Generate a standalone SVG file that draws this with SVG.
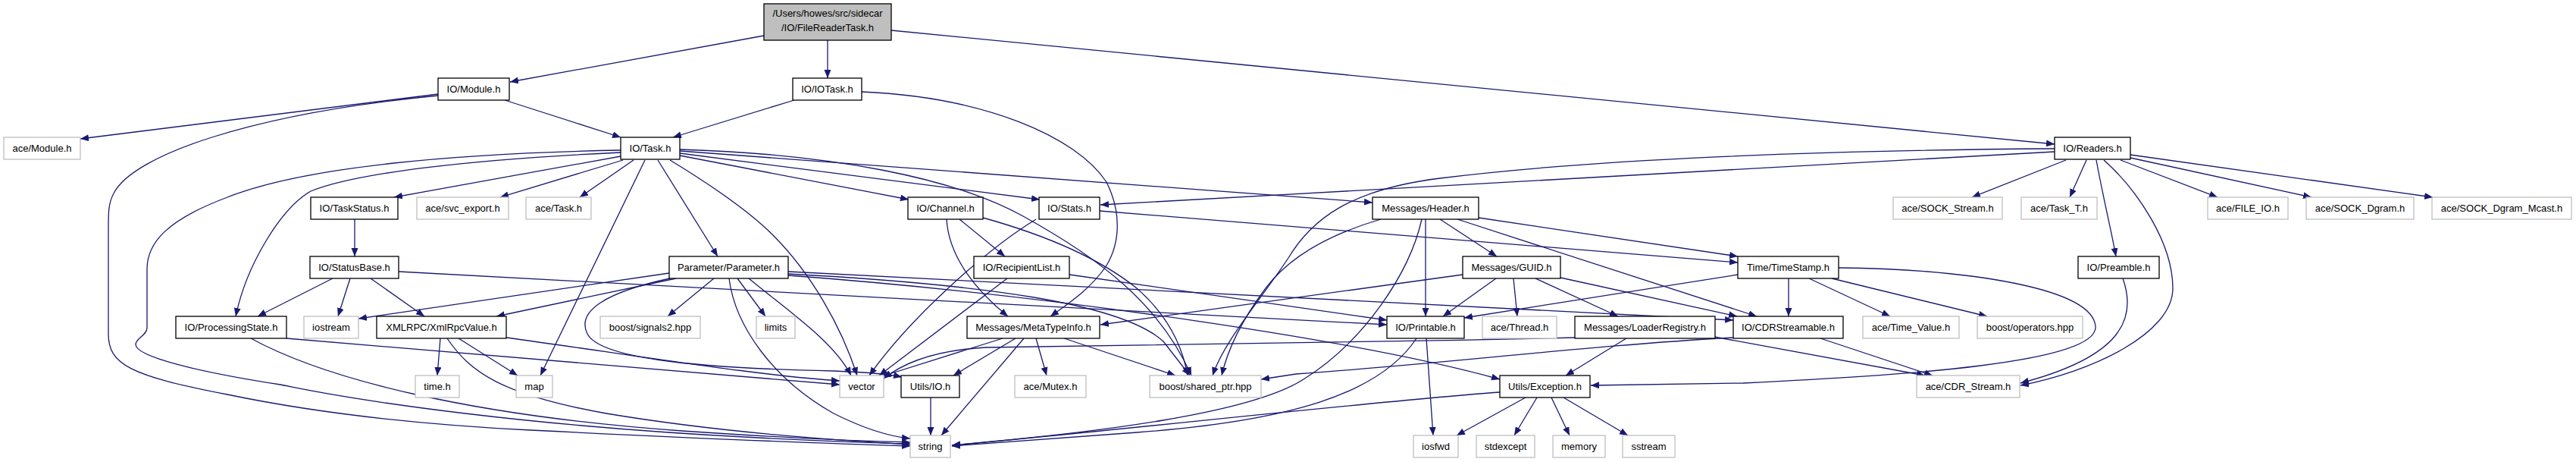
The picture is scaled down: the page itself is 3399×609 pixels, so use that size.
<svg xmlns="http://www.w3.org/2000/svg" width="3399" height="609" viewBox="0 0 3399 609">
<style>
.n rect{fill:#fff;stroke:#000;stroke-width:1.3}
.x rect{fill:#fff;stroke:#bfbfbf;stroke-width:1.3}
.r rect{fill:#bfbfbf;stroke:#000;stroke-width:1.3}
text{font-family:"Liberation Sans",Helvetica,Arial,sans-serif;font-size:13px;fill:#000;text-anchor:middle}
#edges path{fill:none;stroke:#191970;stroke-width:1.3;marker-end:url(#a)}
</style>
<defs>
<marker id="a" markerUnits="userSpaceOnUse" markerWidth="12" markerHeight="10" refX="11" refY="4.5" orient="auto"><path d="M0,0 L11,4.5 L0,9 z" fill="#191970"/></marker>
</defs>
<rect width="3399" height="609" fill="#fff"/>
<g id="edges">
<path d="M1008,47 L673,108"/>
<path d="M1092,53 L1092,103"/>
<path d="M1176,40 L2711,190"/>
<path d="M578,124 L106,183"/>
<path d="M578,126 C330,150 175,205 150,255 C143,268 143,280 143,300 L143,440 C143,480 170,495 300,520 C420,545 560,560 700,567 C900,577 1100,585 1201,588"/>
<path d="M666,132 L819,181"/>
<path d="M1048,132 L888,181"/>
<path d="M1137,121 C1300,128 1420,180 1460,240 C1480,280 1478,320 1460,350 C1440,380 1410,400 1386,417"/>
<path d="M2711,200 L1452,270"/>
<path d="M2711,196 C2400,198 2100,210 1900,235 C1780,250 1730,290 1700,340 C1660,400 1615,450 1600,495"/>
<path d="M2726,211 L2602,260"/>
<path d="M2753,211 L2731,260"/>
<path d="M2766,211 C2775,260 2785,300 2792,338"/>
<path d="M2776,211 C2820,250 2867,320 2867,380 C2867,440 2760,490 2666,508"/>
<path d="M2798,211 L2926,260"/>
<path d="M2811,208 L3050,260"/>
<path d="M2811,204 L3210,260"/>
<path d="M819,206 L520,260"/>
<path d="M822,211 L660,260"/>
<path d="M836,211 L765,260"/>
<path d="M819,201 C620,210 470,228 410,252 C370,275 325,350 311,417"/>
<path d="M819,198 C600,202 400,220 300,260 C220,290 194,320 194,355 L194,432 C194,442 179,446 179,454 C179,470 260,490 370,507 C480,530 700,562 1000,577 C1100,582 1160,584 1201,585"/>
<path d="M851,211 L713,495"/>
<path d="M868,211 L947,338"/>
<path d="M884,211 C940,245 990,280 1020,310 C1070,360 1110,430 1131,495"/>
<path d="M897,205 L1199,263"/>
<path d="M897,202 L1372,263"/>
<path d="M897,199 L1811,267"/>
<path d="M897,197 C1100,203 1260,235 1350,285 C1450,340 1530,400 1572,495"/>
<path d="M1249,289 C1252,340 1290,385 1330,417"/>
<path d="M1266,289 L1326,338"/>
<path d="M1297,287 C1380,310 1450,340 1500,380 C1540,415 1560,455 1567,495"/>
<path d="M1367,289 C1300,330 1200,420 1147,495"/>
<path d="M1451,278 L2293,346"/>
<path d="M1900,289 L1975,338"/>
<path d="M1881,289 L1881,417"/>
<path d="M1822,289 C1750,310 1700,340 1670,380 C1640,420 1620,460 1612,495"/>
<path d="M1876,289 C1860,360 1800,450 1720,500 C1650,545 1450,570 1256,587"/>
<path d="M1923,289 L2318,417"/>
<path d="M1951,287 L2293,338"/>
<path d="M1974,367 L1904,417"/>
<path d="M1997,367 L2002,417"/>
<path d="M2026,367 L2135,417"/>
<path d="M2059,366 L2292,417"/>
<path d="M1930,362 L1452,428"/>
<path d="M2360,367 L2360,417"/>
<path d="M2387,367 L2494,417"/>
<path d="M2417,367 L2622,417"/>
<path d="M2293,362 L1932,419"/>
<path d="M2426,353 C2600,355 2760,380 2765,430 C2770,480 2500,495 2300,505 L2099,508"/>
<path d="M2801,367 C2820,420 2800,470 2666,505"/>
<path d="M2146,446 L2066,495"/>
<path d="M2262,444 L2540,495"/>
<path d="M2078,445 C1800,452 1500,455 1300,458 C1230,462 1190,480 1166,499"/>
<path d="M2402,446 L2550,495"/>
<path d="M2287,445 C2100,455 1900,480 1710,493 L1664,500"/>
<path d="M1323,446 L1164,496"/>
<path d="M1340,446 L1258,495"/>
<path d="M1351,446 L1242,574"/>
<path d="M1367,446 L1381,495"/>
<path d="M1404,446 L1551,495"/>
<path d="M1228,524 L1228,574"/>
<path d="M1882,446 L1891,574"/>
<path d="M1869,446 C1820,520 1700,555 1500,570 C1400,578 1300,585 1256,588"/>
<path d="M2013,524 L1922,574"/>
<path d="M2028,524 L1998,574"/>
<path d="M2047,524 L2071,574"/>
<path d="M2063,524 L2148,574"/>
<path d="M1979,517 C1800,530 1500,565 1256,587"/>
<path d="M468,289 L468,338"/>
<path d="M439,367 L340,417"/>
<path d="M462,367 L446,417"/>
<path d="M489,367 L560,417"/>
<path d="M526,358 L1830,428"/>
<path d="M883,360 L473,420"/>
<path d="M892,367 L655,417"/>
<path d="M942,367 L881,417"/>
<path d="M973,367 L1010,417"/>
<path d="M988,367 C1040,410 1100,450 1123,495"/>
<path d="M884,367 C800,385 760,410 775,440 C790,470 900,485 1100,489 C1150,491 1172,493 1190,497"/>
<path d="M962,367 C970,430 1020,500 1100,545 C1150,570 1180,576 1201,578"/>
<path d="M1040,358 L2287,422"/>
<path d="M1040,363 C1400,390 1800,450 1979,500"/>
<path d="M1040,361 C1300,375 1480,400 1535,450 L1570,495"/>
<path d="M1329,367 L1160,495"/>
<path d="M1411,362 L1830,422"/>
<path d="M331,446 C430,500 620,548 900,568 C1050,578 1150,582 1201,583"/>
<path d="M378,446 L1108,507"/>
<path d="M581,446 L577,495"/>
<path d="M605,446 L683,495"/>
<path d="M590,446 C620,490 660,520 800,545 C950,570 1100,580 1201,586"/>
<path d="M668,445 C850,470 1000,495 1108,502"/>
</g>
<g id="n_root" class="r"><rect x="1008" y="5" width="168" height="48"/><text x="1092" y="22">/Users/howes/src/sidecar</text><text x="1092" y="41">/IO/FileReaderTask.h</text></g>
<g id="n_module" class="n"><rect x="578" y="103" width="94" height="29"/><text x="625" y="122">IO/Module.h</text></g>
<g id="n_iotask" class="n"><rect x="1046" y="103" width="91" height="29"/><text x="1091.5" y="122">IO/IOTask.h</text></g>
<g id="n_acemodule" class="x"><rect x="5" y="181" width="101" height="29"/><text x="55.5" y="200">ace/Module.h</text></g>
<g id="n_task" class="n"><rect x="819" y="181" width="78" height="29"/><text x="858" y="200">IO/Task.h</text></g>
<g id="n_readers" class="n"><rect x="2711" y="181" width="100" height="29"/><text x="2761" y="200">IO/Readers.h</text></g>
<g id="n_taskstatus" class="n"><rect x="410" y="260" width="115" height="29"/><text x="467.5" y="279">IO/TaskStatus.h</text></g>
<g id="n_svcexport" class="x"><rect x="550" y="260" width="121" height="29"/><text x="610.5" y="279">ace/svc_export.h</text></g>
<g id="n_acetask" class="x"><rect x="694" y="260" width="86" height="29"/><text x="737" y="279">ace/Task.h</text></g>
<g id="n_channel" class="n"><rect x="1198" y="260" width="99" height="29"/><text x="1247.5" y="279">IO/Channel.h</text></g>
<g id="n_stats" class="n"><rect x="1371" y="260" width="80" height="29"/><text x="1411" y="279">IO/Stats.h</text></g>
<g id="n_header" class="n"><rect x="1811" y="260" width="140" height="29"/><text x="1881" y="279">Messages/Header.h</text></g>
<g id="n_sockstream" class="x"><rect x="2498" y="260" width="144" height="29"/><text x="2570" y="279">ace/SOCK_Stream.h</text></g>
<g id="n_taskt" class="x"><rect x="2667" y="260" width="100" height="29"/><text x="2717" y="279">ace/Task_T.h</text></g>
<g id="n_fileio" class="x"><rect x="2913" y="260" width="106" height="29"/><text x="2966" y="279">ace/FILE_IO.h</text></g>
<g id="n_sockdgram" class="x"><rect x="3043" y="260" width="142" height="29"/><text x="3114" y="279">ace/SOCK_Dgram.h</text></g>
<g id="n_mcast" class="x"><rect x="3209" y="260" width="184" height="29"/><text x="3301" y="279">ace/SOCK_Dgram_Mcast.h</text></g>
<g id="n_statusbase" class="n"><rect x="409" y="338" width="117" height="29"/><text x="467.5" y="357">IO/StatusBase.h</text></g>
<g id="n_parameter" class="n"><rect x="883" y="338" width="157" height="29"/><text x="961.5" y="357">Parameter/Parameter.h</text></g>
<g id="n_recipient" class="n"><rect x="1285" y="338" width="126" height="29"/><text x="1348" y="357">IO/RecipientList.h</text></g>
<g id="n_guid" class="n"><rect x="1930" y="338" width="129" height="29"/><text x="1994.5" y="357">Messages/GUID.h</text></g>
<g id="n_timestamp" class="n"><rect x="2293" y="338" width="133" height="29"/><text x="2359.5" y="357">Time/TimeStamp.h</text></g>
<g id="n_preamble" class="n"><rect x="2742" y="338" width="107" height="29"/><text x="2795.5" y="357">IO/Preamble.h</text></g>
<g id="n_procstate" class="n"><rect x="232" y="417" width="146" height="29"/><text x="305" y="436">IO/ProcessingState.h</text></g>
<g id="n_iostream" class="x"><rect x="401" y="417" width="72" height="29"/><text x="437" y="436">iostream</text></g>
<g id="n_xmlrpc" class="n"><rect x="497" y="417" width="171" height="29"/><text x="582.5" y="436">XMLRPC/XmlRpcValue.h</text></g>
<g id="n_signals2" class="x"><rect x="792" y="417" width="132" height="29"/><text x="858" y="436">boost/signals2.hpp</text></g>
<g id="n_limits" class="x"><rect x="998" y="417" width="51" height="29"/><text x="1023.5" y="436">limits</text></g>
<g id="n_metatype" class="n"><rect x="1276" y="417" width="175" height="29"/><text x="1363.5" y="436">Messages/MetaTypeInfo.h</text></g>
<g id="n_printable" class="n"><rect x="1830" y="417" width="102" height="29"/><text x="1881" y="436">IO/Printable.h</text></g>
<g id="n_thread" class="x"><rect x="1956" y="417" width="98" height="29"/><text x="2005" y="436">ace/Thread.h</text></g>
<g id="n_loader" class="n"><rect x="2078" y="417" width="185" height="29"/><text x="2170.5" y="436">Messages/LoaderRegistry.h</text></g>
<g id="n_cdrstreamable" class="n"><rect x="2287" y="417" width="145" height="29"/><text x="2359.5" y="436">IO/CDRStreamable.h</text></g>
<g id="n_timevalue" class="x"><rect x="2458" y="417" width="127" height="29"/><text x="2521.5" y="436">ace/Time_Value.h</text></g>
<g id="n_operators" class="x"><rect x="2609" y="417" width="139" height="29"/><text x="2678.5" y="436">boost/operators.hpp</text></g>
<g id="n_timeh" class="x"><rect x="548" y="495" width="58" height="29"/><text x="577" y="514">time.h</text></g>
<g id="n_map" class="x"><rect x="681" y="495" width="48" height="29"/><text x="705" y="514">map</text></g>
<g id="n_vector" class="x"><rect x="1108" y="495" width="58" height="29"/><text x="1137" y="514">vector</text></g>
<g id="n_utilsio" class="n"><rect x="1189" y="495" width="77" height="29"/><text x="1227.5" y="514">Utils/IO.h</text></g>
<g id="n_mutex" class="x"><rect x="1339" y="495" width="94" height="29"/><text x="1386" y="514">ace/Mutex.h</text></g>
<g id="n_sharedptr" class="x"><rect x="1517" y="495" width="147" height="29"/><text x="1590.5" y="514">boost/shared_ptr.hpp</text></g>
<g id="n_exception" class="n"><rect x="1979" y="495" width="119" height="29"/><text x="2038.5" y="514">Utils/Exception.h</text></g>
<g id="n_cdrstream" class="x"><rect x="2529" y="495" width="136" height="29"/><text x="2597" y="514">ace/CDR_Stream.h</text></g>
<g id="n_string" class="x"><rect x="1201" y="574" width="53" height="29"/><text x="1227.5" y="593">string</text></g>
<g id="n_iosfwd" class="x"><rect x="1865" y="574" width="59" height="29"/><text x="1894.5" y="593">iosfwd</text></g>
<g id="n_stdexcept" class="x"><rect x="1948" y="574" width="77" height="29"/><text x="1986.5" y="593">stdexcept</text></g>
<g id="n_memory" class="x"><rect x="2049" y="574" width="69" height="29"/><text x="2083.5" y="593">memory</text></g>
<g id="n_sstream" class="x"><rect x="2141" y="574" width="69" height="29"/><text x="2175.5" y="593">sstream</text></g>
</svg>
